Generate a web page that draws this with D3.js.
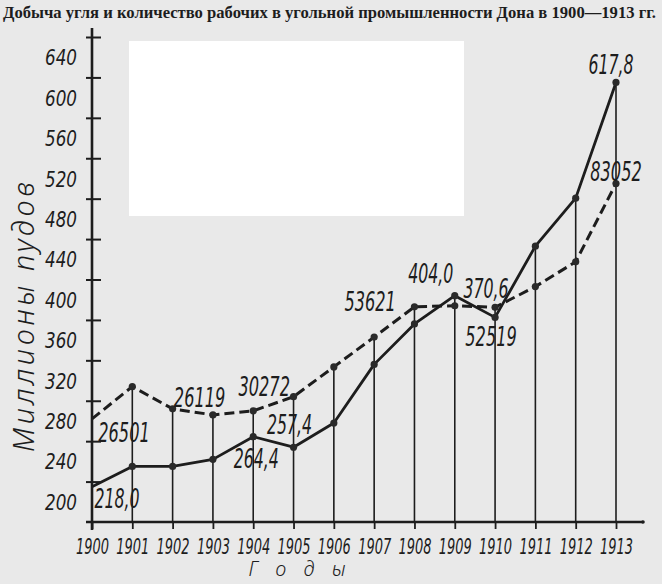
<!DOCTYPE html>
<html>
<head>
<meta charset="utf-8">
<script src="https://cdn.jsdelivr.net/npm/d3@7"></script>
<style>
    html, body { margin: 0; padding: 0; background: #e9e9e9; }
    svg { display: block; }
    .ink { fill: #1d1d1d; }
    .num { font-family: "Liberation Sans Narrow", "DejaVu Sans Condensed", "Liberation Sans", sans-serif; font-style: italic; fill: #1d1d1d; }
</style>
</head>
<body>
<svg id="chart" width="662" height="584"></svg>
<script>
const TITLE = "Добыча угля и количество рабочих в угольной промышленности Дона в 1900—1913 гг.";
const Y_TITLE = "Миллионы пудов";
const X_TITLE = "Г о д ы";

const YEARS = [1900, 1901, 1902, 1903, 1904, 1905, 1906, 1907, 1908, 1909, 1910, 1911, 1912, 1913];

// coal output, million poods (solid line), as plotted
const COAL_OUTPUT = [215, 235, 235, 242, 264.4, 254, 278, 336, 376, 404, 382.5, 453, 500.5, 615];

// workers (dashed line), plotted on the same axis
const WORKERS_PLOT = [282, 314, 292, 286, 290, 304, 333.5, 363, 393, 394, 392.5, 413, 437.5, 515];

const Y_TICKS = [220, 260, 300, 340, 380, 420, 460, 500, 540, 580, 620, 660];
const Y_LABELS = [200, 240, 280, 320, 360, 400, 440, 480, 520, 560, 600, 640];

const POINT_LABELS = [
    {year: 1900, series: "workers", text: "26501"},
    {year: 1900, series: "coal", text: "218,0"},
    {year: 1902, series: "workers", text: "26119"},
    {year: 1904, series: "workers", text: "30272"},
    {year: 1904, series: "coal", text: "264,4"},
    {year: 1905, series: "coal", text: "257,4"},
    {year: 1907, series: "workers", text: "53621"},
    {year: 1909, series: "coal", text: "404,0"},
    {year: 1910, series: "coal", text: "370,6"},
    {year: 1910, series: "workers", text: "52519"},
    {year: 1913, series: "coal", text: "617,8"},
    {year: 1913, series: "workers", text: "83052"}
];

// where each number sits relative to its point (centre x, baseline y)
const LABEL_OFFSETS = new Map([
    ["26501", [32, 23]], ["218,0", [25, 21]], ["26119", [27, -2]], ["30272", [11, -15]],
    ["264,4", [3, 31]], ["257,4", [-4, -13]], ["53621", [-4, -26]], ["404,0", [-24, -13]],
    ["370,6", [-9, -19]], ["52519", [-4, 39]], ["617,8", [-5, -8]], ["83052", [0, -3]]
]);

class CoalChartPresenter {

    constructor(svgId) {
        const self = this;
        self._svg = d3.select("#" + svgId);

        self._xScale = d3.scalePoint()
            .domain(YEARS)
            .range([92, 616]);

        self._yScale = d3.scaleLinear()
            .domain([180, 660])
            .range([522, 37]);

        self._series = new Map();
        self._series.set("coal", YEARS.map((year, i) => ({"year": year, "value": COAL_OUTPUT[i]})));
        self._series.set("workers", YEARS.map((year, i) => ({"year": year, "value": WORKERS_PLOT[i]})));
    }

    draw() {
        const self = this;
        const svg = self._svg;
        const x = self._xScale;
        const y = self._yScale;
        const ink = "#1d1d1d";

        const numWidth = (text) => {
            const digits = text.replace(/[^0-9]/g, "").length;
            return digits * 10.3 + (text.indexOf(",") >= 0 ? 4 : 0);
        };

        const drawPaper = () => {
            svg.append("rect")
                .attr("width", 662).attr("height", 584)
                .attr("fill", "#e9e9e9");
            // whited-out patch on the scan
            svg.append("rect")
                .attr("x", 129).attr("y", 41)
                .attr("width", 335).attr("height", 175)
                .attr("fill", "#ffffff");
        };

        const drawTitles = () => {
            svg.append("text")
                .attr("x", 3).attr("y", 18)
                .attr("textLength", 653)
                .attr("lengthAdjust", "spacingAndGlyphs")
                .style("font-family", "'Liberation Serif', 'DejaVu Serif', serif")
                .style("font-weight", "bold")
                .style("font-size", "16px")
                .attr("class", "ink")
                .text(TITLE);

            svg.append("text")
                .attr("transform", "translate(34 317) rotate(-90)")
                .attr("text-anchor", "middle")
                .attr("textLength", 270)
                .attr("lengthAdjust", "spacing")
                .style("font-family", "'Noto Sans', 'DejaVu Sans', sans-serif")
                .style("font-style", "italic")
                .style("font-weight", "300")
                .style("font-size", "29px")
                .attr("class", "ink")
                .text(Y_TITLE);

            svg.append("text")
                .attr("x", 297).attr("y", 576)
                .attr("text-anchor", "middle")
                .attr("textLength", 97)
                .attr("lengthAdjust", "spacing")
                .style("font-family", "'Noto Sans', 'DejaVu Sans', sans-serif")
                .style("font-style", "italic")
                .style("font-weight", "300")
                .style("font-size", "20px")
                .attr("class", "ink")
                .text(X_TITLE);
        };

        const drawDropLines = () => {
            const tops = YEARS.map((year, i) => ({
                "year": year,
                "top": Math.max(COAL_OUTPUT[i], WORKERS_PLOT[i])
            })).filter((d) => d.year !== YEARS[0]);

            svg.append("g")
                .selectAll("line")
                .data(tops)
                .enter()
                .append("line")
                .attr("x1", (d) => x(d.year)).attr("x2", (d) => x(d.year))
                .attr("y1", (d) => y(d.top)).attr("y2", y(180))
                .attr("stroke", ink)
                .attr("stroke-width", 1.6);
        };

        const drawAxes = () => {
            // y labels
            const labelAxis = svg.append("g")
                .attr("transform", "translate(92 0)")
                .call(d3.axisLeft(y).tickValues(Y_LABELS).tickSize(0).tickPadding(15));
            labelAxis.select(".domain").remove();
            labelAxis.selectAll("text")
                .attr("class", "num")
                .attr("textLength", 32)
                .attr("lengthAdjust", "spacingAndGlyphs")
                .attr("dy", "0.36em")
                .style("font-size", "21px")
                .attr("font-family", null);

            // y ticks crossing the axis
            const tickRight = svg.append("g")
                .attr("transform", "translate(92 0)")
                .call(d3.axisRight(y).tickValues(Y_TICKS).tickSize(9).tickFormat(""));
            const tickLeft = svg.append("g")
                .attr("transform", "translate(92 0)")
                .call(d3.axisLeft(y).tickValues(Y_TICKS).tickSize(6).tickFormat(""));
            [tickRight, tickLeft].forEach((g) => {
                g.select(".domain").remove();
                g.selectAll("line").attr("stroke", ink).attr("stroke-width", 2);
            });

            svg.append("line")
                .attr("x1", 92).attr("x2", 92)
                .attr("y1", 28).attr("y2", 530)
                .attr("stroke", ink).attr("stroke-width", 2.6);

            // x axis
            const xAxis = svg.append("g")
                .attr("transform", "translate(0 " + y(180) + ")")
                .call(d3.axisBottom(x).tickSize(7).tickPadding(10));
            xAxis.select(".domain").remove();
            xAxis.selectAll("line").attr("stroke", ink).attr("stroke-width", 1.8);
            xAxis.selectAll("text")
                .attr("class", "num")
                .attr("textLength", 33)
                .attr("lengthAdjust", "spacingAndGlyphs")
                .style("font-size", "21px")
                .attr("font-family", null);

            svg.append("line")
                .attr("x1", 86).attr("x2", 643)
                .attr("y1", y(180)).attr("y2", y(180))
                .attr("stroke", ink).attr("stroke-width", 2.6);
            svg.append("circle")
                .attr("cx", 643).attr("cy", y(180)).attr("r", 1.8)
                .attr("fill", ink);
        };

        const drawSeries = () => {
            const lineGenerator = d3.line()
                .x((d) => x(d.year))
                .y((d) => y(d.value));

            svg.append("path")
                .attr("d", lineGenerator(self._series.get("workers")))
                .attr("fill", "none")
                .attr("stroke", ink)
                .attr("stroke-width", 3)
                .attr("stroke-dasharray", "10 5");

            svg.append("path")
                .attr("d", lineGenerator(self._series.get("coal")))
                .attr("fill", "none")
                .attr("stroke", ink)
                .attr("stroke-width", 2.8)
                .attr("stroke-linejoin", "round");

            ["workers", "coal"].forEach((key) => {
                svg.append("g")
                    .selectAll("circle")
                    .data(self._series.get(key).filter((d) => d.year !== YEARS[0]))
                    .enter()
                    .append("circle")
                    .attr("cx", (d) => x(d.year))
                    .attr("cy", (d) => y(d.value))
                    .attr("r", 3.6)
                    .attr("fill", "#2a2a2a");
            });
        };

        const drawPointLabels = () => {
            svg.append("g")
                .selectAll("text")
                .data(POINT_LABELS)
                .enter()
                .append("text")
                .attr("class", "num")
                .attr("text-anchor", "middle")
                .attr("x", (d) => x(d.year) + LABEL_OFFSETS.get(d.text)[0])
                .attr("y", (d) => {
                    const idx = YEARS.indexOf(d.year);
                    const value = d.series === "coal" ? COAL_OUTPUT[idx] : WORKERS_PLOT[idx];
                    return y(value) + LABEL_OFFSETS.get(d.text)[1];
                })
                .attr("textLength", (d) => numWidth(d.text))
                .attr("lengthAdjust", "spacingAndGlyphs")
                .style("font-size", "26px")
                .text((d) => d.text);
        };

        drawPaper();
        drawTitles();
        drawDropLines();
        drawAxes();
        drawSeries();
        drawPointLabels();
    }

}

const presenter = new CoalChartPresenter("chart");
presenter.draw();
</script>
</body>
</html>
